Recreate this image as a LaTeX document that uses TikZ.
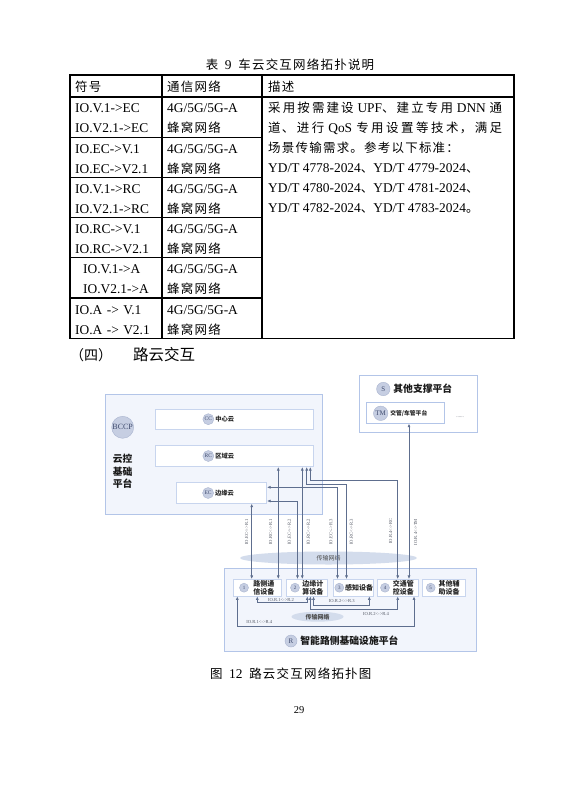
\documentclass[tikz,border=0pt]{standalone}
\usepackage{fontspec}
\setmainfont{Liberation Serif}
\newfontfamily\cjk[Scale=0.93,LetterSpace=10]{Noto Sans CJK SC}
\newfontfamily\cjkplain{Noto Sans CJK SC}
\usepackage{tikz}
\usetikzlibrary{arrows.meta,positioning,shapes.geometric}
\XeTeXlinebreaklocale "zh"
\XeTeXlinebreakskip=1.25pt plus 3pt
\definecolor{panelfill}{HTML}{F2F5FC}
\definecolor{paneledge}{HTML}{B3C5E8}
\definecolor{boxedge}{HTML}{C8D5EE}
\definecolor{discfill}{HTML}{C6CEE2}
\definecolor{discedge}{HTML}{A9B4CF}
\definecolor{disctext}{HTML}{3F4B6E}
\definecolor{linkslate}{HTML}{5E6E8E}
\definecolor{netfill}{HTML}{D3DCEC}
\definecolor{notegray}{HTML}{555A66}
\newcommand{\zh}[1]{{\cjk #1}}
\tikzset{
  bodytext/.style={anchor=base west,inner sep=0pt,font=\fontsize{13.4}{20}\selectfont},
  cellA/.style={bodytext,text width=85pt,align=left},
  cellB/.style={bodytext,text width=92pt,align=left},
  gridline/.style={line width=1.1pt},
  panel/.style={draw=paneledge,fill=panelfill,line width=0.9pt,inner sep=0pt},
  cloudbox/.style={draw=boxedge,fill=white,line width=0.8pt,inner sep=0pt},
  tagdisc/.style={circle,fill=discfill,draw=discedge,line width=0.4pt,inner sep=0pt,text=disctext,font=\fontsize{5.5}{5.5}\selectfont},
  boxtext/.style={inner sep=0pt,align=left,text=black!85,font={\cjkplain\bfseries\fontsize{6.3}{7}\selectfont}},
  devtext/.style={inner sep=0pt,align=left,text=black!85,font={\cjkplain\bfseries\fontsize{7}{7.7}\selectfont}},
  bigtext/.style={inner sep=0pt,align=center,text=black!90,font={\cjkplain\bfseries\fontsize{9.8}{12.5}\selectfont}},
  netcloud/.style={ellipse,fill=netfill,inner sep=0pt,text=black!70,font={\cjkplain\fontsize{6}{6}\selectfont}},
  linkarrow/.style={{Latex[length=3.5pt,width=3pt]}-{Latex[length=3.5pt,width=3pt]},draw=linkslate,line width=0.6pt},
  linknote/.style={inner sep=0pt,text=notegray,font=\fontsize{4.6}{5}\selectfont},
}

\begin{document}
\begin{tikzpicture}[x=1pt,y=-1pt]
\path[use as bounding box,fill=white] (0,0) rectangle (583,786);

% table 9
\node[bodytext,anchor=base] (tabcap) at (290,69.5) {\zh{表}\ \ 9\ \ \zh{车云交互网络拓扑说明}};
\draw[gridline] (70,75) rectangle (514,338.3);
\draw[gridline] (162,75) -- (162,338.3) (262,75) -- (262,338.3) (70,97) -- (514,97);
\foreach \y in {137.2,177.4,217.6,257.8,298}
  \draw[gridline] (70,\y) -- (262,\y);
\node[bodytext] (hsym) at (75,91.5) {\zh{符号}};
\node[bodytext] (hnet) at (167,91.5) {\zh{通信网络}};
\node[bodytext] (hdesc) at (268,91.5) {\zh{描述}};
\node[cellA] (sym1) at (75,113) {\mbox{IO.V.1->EC}\\\mbox{IO.V2.1->EC}};
\node[cellA] (sym2) at (75,153.2) {\mbox{IO.EC->V.1}\\\mbox{IO.EC->V2.1}};
\node[cellA] (sym3) at (75,193.4) {\mbox{IO.V.1->RC}\\\mbox{IO.V2.1->RC}};
\node[cellA] (sym4) at (75,233.6) {\mbox{IO.RC->V.1}\\\mbox{IO.RC->V2.1}};
\node[cellA] (sym5) at (83,273.8) {\mbox{IO.V.1->A}\\\mbox{IO.V2.1->A}};
\node[cellA] (sym6) at (75,314) {\mbox{IO.A -> V.1}\\\mbox{IO.A -> V2.1}};
\foreach \y [count=\i] in {113,153.2,193.4,233.6,273.8,314}
  \node[cellB] (net\i) at (167,\y) {\mbox{4G/5G/5G-A}\\\zh{蜂窝网络}};
\node[bodytext,text width=234pt,align=justify] (desc) at (268,113) {\zh{采用按需建设} UPF\zh{、建立专用} DNN \zh{通}\linebreak
  \zh{道、进行} QoS \zh{专用设置等技术，满足}\linebreak
  \zh{场景传输需求。参考以下标准：}\\
  \mbox{YD/T 4778-2024}\zh{、}\mbox{YD/T 4779-2024}\zh{、}\\
  \mbox{YD/T 4780-2024}\zh{、}\mbox{YD/T 4781-2024}\zh{、}\\
  \mbox{YD/T 4782-2024}\zh{、}\mbox{YD/T 4783-2024}\zh{。}};

% section heading
\node[anchor=west,inner sep=0pt,font=\cjkplain\fontsize{14}{14}\selectfont] (secno) at (70,355) {（四）};
\node[anchor=west,inner sep=0pt,font=\cjkplain\fontsize{15.5}{16}\selectfont] (sectitle) at (133,355) {路云交互};

% cloud control platform
\node[panel,minimum width=217pt,minimum height=120pt] (bccp) at (213.5,454) {};
\node[tagdisc,minimum size=22pt,font=\fontsize{8}{8}\selectfont] (bccpdisc) at (122.7,427.3) {BCCP};
\node[bigtext] (bccpname) at (122.7,471.7) {云控\\基础\\平台};
\node[cloudbox,minimum width=158.3pt,minimum height=20.3pt] (cc) at (234.2,419.2) {};
\node[tagdisc,minimum size=11pt,right=48pt of cc.west] (ccdisc) {CC};
\node[boxtext,right=1pt of ccdisc] (cctext) {中心云};
\node[cloudbox,minimum width=158.3pt,minimum height=21.4pt] (rc) at (234.2,456) {};
\node[tagdisc,minimum size=11pt,right=48pt of rc.west] (rcdisc) {RC};
\node[boxtext,right=1pt of rcdisc] (rctext) {区域云};
\node[cloudbox,minimum width=90pt,minimum height=20.6pt] (ec) at (221.7,493) {};
\node[tagdisc,minimum size=11pt,right=26.1pt of ec.west] (ecdisc) {EC};
\node[boxtext,right=1pt of ecdisc] (ectext) {边缘云};

% other support platform
\node[panel,fill=white,minimum width=118.3pt,minimum height=57.3pt] (sp) at (418.2,403.7) {};
\node[tagdisc,minimum size=13.4pt,font=\fontsize{7}{7}\selectfont] (sdisc) at (383.3,389) {S};
\node[bigtext,right=3pt of sdisc] (sname) {其他支撑平台};
\node[cloudbox,draw=paneledge,minimum width=78.7pt,minimum height=21pt] (tm) at (405.4,412.8) {};
\node[tagdisc,minimum size=14.4pt,font=\fontsize{7}{7}\selectfont] (tmdisc) at (380.7,413.3) {TM};
\node[boxtext,font={\cjkplain\bfseries\fontsize{5.8}{6}\selectfont},right=2pt of tmdisc] (tmtext) {交管/车管平台};
\node[inner sep=0pt,text=notegray,font=\fontsize{5}{5}\selectfont] (more) at (460,417.3) {......};

% roadside platform
\node[panel,minimum width=252pt,minimum height=83.4pt] (rp) at (350,610) {};
\node[netcloud,minimum width=177pt,minimum height=13pt] (net) at (328.5,558) {传输网络};
\node[netcloud,minimum width=52pt,minimum height=10pt,font={\cjkplain\bfseries\fontsize{6}{6}\selectfont}] (rnet) at (317.5,616.7) {传输网络};
\node[tagdisc,minimum size=12pt,font=\fontsize{7}{7}\selectfont] (rdisc) at (291,641) {R};
\node[bigtext,right=3pt of rdisc] (rname) {智能路侧基础设施平台};
\node[cloudbox,minimum width=47.7pt,minimum height=16.7pt] (d1) at (257.2,587.7) {};
\node[cloudbox,minimum width=41.3pt,minimum height=16.7pt] (d2) at (306.7,587.7) {};
\node[cloudbox,minimum width=40pt,minimum height=16.7pt] (d3) at (353.3,587.7) {};
\node[cloudbox,minimum width=41pt,minimum height=16.7pt] (d4) at (397.8,587.7) {};
\node[cloudbox,minimum width=42.3pt,minimum height=16.7pt] (d5) at (443.9,587.7) {};
\node[tagdisc,minimum size=9pt,font=\fontsize{5}{5}\selectfont] (n1) at (244,587.7) {1};
\node[tagdisc,minimum size=9pt,font=\fontsize{5}{5}\selectfont] (n2) at (295,587.7) {2};
\node[tagdisc,minimum size=9pt,font=\fontsize{5}{5}\selectfont] (n3) at (339.3,587.7) {3};
\node[tagdisc,minimum size=9pt,font=\fontsize{5}{5}\selectfont] (n4) at (385,587.7) {4};
\node[tagdisc,minimum size=9pt,font=\fontsize{5}{5}\selectfont] (n5) at (430.7,587.7) {5};
\node[devtext,right=4.5pt of n1] (t1) {路侧通\\信设备};
\node[devtext,right=2.5pt of n2] (t2) {边缘计\\算设备};
\node[devtext,right=1pt of n3] (t3) {感知设备};
\node[devtext,right=3pt of n4] (t4) {交通管\\控设备};
\node[devtext,right=3pt of n5] (t5) {其他辅\\助设备};

% cloud <-> roadside links
\draw[linkarrow] (ec.south -| 251.7,0) -- (d1.north -| 251.7,0);
\draw[linkarrow] (rc.south -| 278.3,0) -- (d1.north -| 278.3,0);
\draw[linkarrow] (ec.east |- 0,501) -- (297.5,501) -- (d2.north -| 297.5,0);
\draw[linkarrow] (rc.south -| 302.3,0) -- (d2.north -| 302.3,0);
\draw[linkarrow] (ec.east |- 0,487.3) -- (337.5,487.3) -- (d3.north -| 337.5,0);
\draw[linkarrow] (rc.south -| 306.7,0) -- (306.7,484.3) -- (346.5,484.3) -- (d3.north -| 346.5,0);
\draw[linkarrow] (rc.south -| 310.3,0) -- (310.3,480) -- (397.7,480) -- (d4.north -| 397.7,0);
\draw[linkarrow] (tm.south -| 409,0) -- (d4.north -| 409,0);
\node[linknote,rotate=90] (lec1) at (246.7,532) {IO.EC<->R.1};
\node[linknote,rotate=90] (lrc1) at (270.7,532) {IO.RC<->R.1};
\node[linknote,rotate=90] (lec2) at (289.3,532) {IO.EC<->R.2};
\node[linknote,rotate=90] (lrc2) at (308.3,532) {IO.RC<->R.2};
\node[linknote,rotate=90] (lec3) at (331,532) {IO.EC<->R.3};
\node[linknote,rotate=90] (lrc3) at (351.5,532) {IO.RC<->R.3};
\node[linknote,rotate=90] (l4rc) at (390.7,531) {IO.R.4<->RC};
\node[linknote,rotate=90] (l4tm) at (415.7,532) {IO.R.4<->TM};

% roadside internal links
\draw[linkarrow] (d1.south -| 257.3,0) |- (307.3,602.5) -- (d2.south -| 307.3,0);
\draw[linkarrow] (d2.south -| 313.5,0) |- (369.3,605.5) -- (d3.south -| 369.3,0);
\draw[linkarrow] (d2.south -| 310.3,0) |- (397.7,609.5) -- (d4.south -| 397.7,0);
\draw[linkarrow] (d1.south -| 237.3,0) |- (414,626.7) -- (d4.south -| 414,0);
\node[linknote] (r12) at (281,599.8) {IO.R.1<->R.2};
\node[linknote] (r23) at (341.7,600.8) {IO.R.2<->R.3};
\node[linknote] (r24) at (376,613.8) {IO.R.2<->R.4};
\node[linknote] (r14) at (259.3,622.3) {IO.R.1<->R.4};

% figure caption and page number
\node[bodytext,anchor=base] (figcap) at (290.7,678) {\zh{图}\ \ 12\ \ \zh{路云交互网络拓扑图}};
\node[inner sep=0pt,font=\fontsize{10.5}{10.5}\selectfont] (pageno) at (299,710) {29};
\end{tikzpicture}
\end{document}
